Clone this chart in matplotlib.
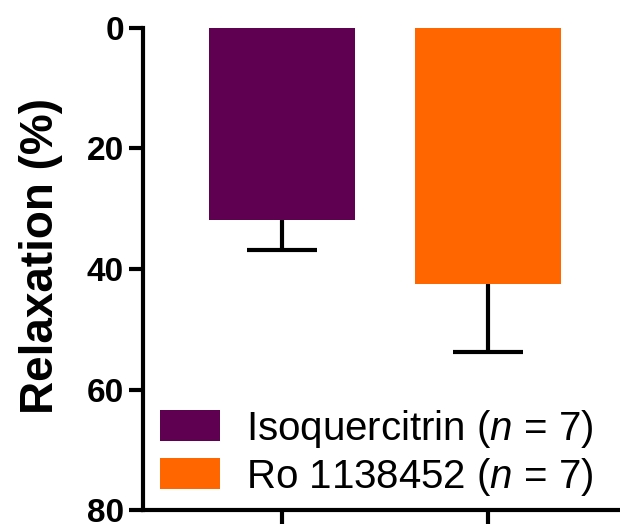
import matplotlib
matplotlib.use("Agg")
import matplotlib.pyplot as plt

# Data
groups = ["Isoquercitrin", "Ro 1138452"]
n_values = [7, 7]
relaxation_mean = [31.8, 42.5]
relaxation_sem = [5.1, 11.2]
colors = ["#600050", "#FF6600"]
yticks = [0, 20, 40, 60, 80]

plt.rcParams["font.family"] = ["Liberation Sans", "DejaVu Sans"]
plt.rcParams["mathtext.fontset"] = "custom"
plt.rcParams["mathtext.it"] = "Liberation Sans:italic"
plt.rcParams["mathtext.rm"] = "Liberation Sans"

fig = plt.figure(figsize=(6.2, 5.27), dpi=100)
ax = fig.add_axes([0.231, 0.032, 0.769, 0.915])

x = list(range(len(groups)))
labels = [f"{g} ($\\mathit{{n}}$ = {n})" for g, n in zip(groups, n_values)]
bars = ax.bar(x, relaxation_mean, width=0.71, color=colors, zorder=2)

# one-sided error bars (away from the baseline)
_, caps, _ = ax.errorbar(x, relaxation_mean, yerr=[[0] * len(x), relaxation_sem],
                         fmt="none", ecolor="black", elinewidth=3, capsize=25,
                         capthick=3, zorder=1)
caps[0].set_visible(False)

ax.set_xlim(-0.675, 1.64)
ax.set_ylim(80, 0)
ax.set_yticks(yticks)
ax.set_xticks(x)
ax.set_xticklabels(["", ""])

for s in ["top", "right"]:
    ax.spines[s].set_visible(False)
for s in ["left", "bottom"]:
    ax.spines[s].set_linewidth(3)

ax.tick_params(axis="both", width=3, length=10, direction="out")
ax.tick_params(axis="y", labelsize=24, pad=4)
for lbl in ax.get_yticklabels():
    lbl.set_fontweight("bold")

ax.set_ylabel("Relaxation (%)", fontsize=33, fontweight="bold", labelpad=17)
ax.yaxis.label.set_y(0.527)

ax.legend(handles=bars.patches, labels=labels, loc="lower left",
          bbox_to_anchor=(0.036, 0.026), frameon=False, fontsize=29,
          handlelength=1.47, handleheight=0.82, handletextpad=0.65,
          labelspacing=0.15, borderpad=0, borderaxespad=0)

fig.savefig("out.png", dpi=100)
